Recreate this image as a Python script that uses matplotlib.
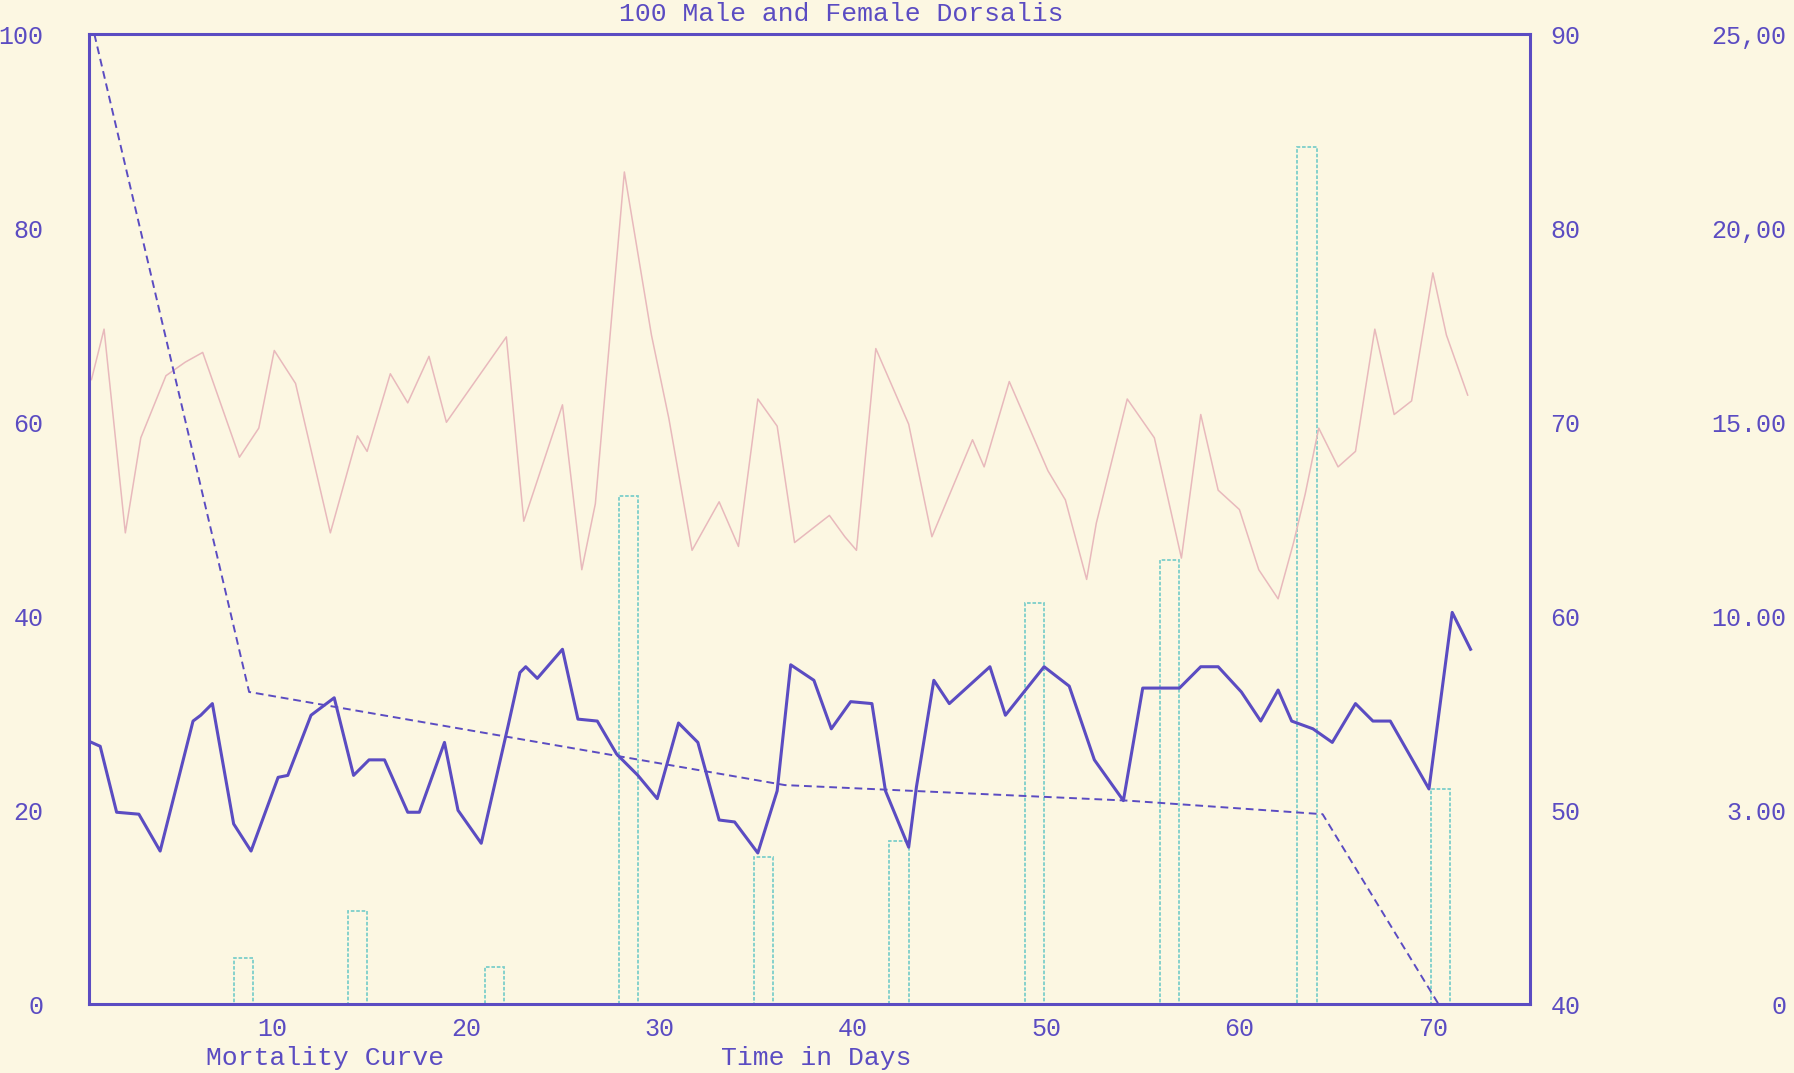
import matplotlib
matplotlib.use("Agg")
import matplotlib.pyplot as plt

# typewriter look
plt.rcParams['font.family'] = ['Liberation Mono', 'DejaVu Sans Mono']

ink = '#5b4cc2'
paper = '#fcf7e2'

# mortality curve (left axis, per cent surviving)
mort_days = [0.8, 8.8, 36.5, 54.2, 64.3, 70.3]
mort_vals = [100, 32.2, 22.6, 21.0, 19.6, 0]

# solid blue line (right axis)
blue_days = [0.65, 1.1, 1.95, 3.1, 4.2, 5.9, 6.3, 6.9, 8.0, 8.9, 10.3, 10.8, 12.0, 13.2,
             14.2, 15.0, 15.8, 17.0, 17.6, 18.9, 19.6, 20.8, 22.2, 22.8, 23.1, 23.7, 25.0,
             25.8, 26.8, 27.8, 28.9, 29.9, 31.0, 32.0, 33.1, 33.9, 35.1, 36.1, 36.8, 38.0,
             38.9, 39.9, 41.0, 41.7, 42.9, 43.3, 44.2, 45.0, 47.1, 47.9, 49.9, 51.2, 52.5,
             54.0, 55.0, 56.9, 58.0, 58.9, 60.1, 61.1, 62.0, 62.7, 63.8, 64.8, 66.0, 66.9,
             67.8, 69.8, 71.0, 71.95]
blue_vals = [53.5, 53.3, 49.9, 49.8, 47.9, 54.6, 54.9, 55.5, 49.3, 47.9, 51.7, 51.8, 54.9, 55.8,
             51.8, 52.6, 52.6, 49.9, 49.9, 53.5, 50.0, 48.3, 54.4, 57.1, 57.4, 56.8, 58.3,
             54.7, 54.6, 52.9, 51.8, 50.6, 54.5, 53.5, 49.5, 49.4, 47.8, 51.0, 57.5, 56.7,
             54.2, 55.6, 55.5, 51.0, 48.1, 51.2, 56.7, 55.5, 57.4, 54.9, 57.4, 56.4, 52.6,
             50.5, 56.3, 56.3, 57.4, 57.4, 56.1, 54.6, 56.2, 54.6, 54.2, 53.5, 55.5, 54.6,
             54.6, 51.1, 60.2, 58.3]

# faint pink line (right axis)
pink_days = [0.65, 1.3, 2.4, 3.2, 4.5, 5.5, 6.4, 8.3, 9.3, 10.1, 11.2, 13.0, 14.4, 14.9,
             16.1, 17.0, 18.1, 19.0, 22.1, 23.0, 25.0, 26.0, 26.7, 28.2, 29.6, 30.5, 31.7,
             33.1, 34.1, 35.1, 36.1, 37.0, 38.8, 39.6, 40.2, 41.2, 42.9, 44.1, 46.2, 46.8,
             48.1, 50.1, 51.0, 52.1, 52.6, 54.2, 55.6, 57.0, 58.0, 58.9, 60.0, 61.0, 62.0,
             62.8, 63.4, 64.1, 65.1, 66.0, 67.0, 68.0, 68.9, 70.0, 70.7, 71.8]
pink_vals = [72.2, 74.8, 64.3, 69.2, 72.4, 73.1, 73.6, 68.2, 69.7, 73.7, 72.0, 64.3, 69.3, 68.5,
             72.5, 71.0, 73.4, 70.0, 74.4, 64.9, 70.9, 62.4, 65.8, 82.9, 74.5, 70.2, 63.4,
             65.9, 63.6, 71.2, 69.8, 63.8, 65.2, 64.1, 63.4, 73.8, 69.9, 64.1, 69.1, 67.7,
             72.1, 67.5, 66.0, 61.9, 64.8, 71.2, 69.2, 63.0, 70.4, 66.5, 65.5, 62.4, 60.9,
             63.8, 66.3, 69.7, 67.7, 68.5, 74.8, 70.4, 71.1, 77.7, 74.5, 71.4]

# weekly bars (far right axis)
bar_days = [8.5, 14.4, 21.5, 28.4, 35.4, 42.4, 49.4, 56.4, 63.5, 70.4]
bar_vals = [1.2, 2.4, 0.95, 13.1, 3.8, 4.2, 10.35, 11.45, 22.1, 5.55]

left_ticks = [0, 20, 40, 60, 80, 100]
right_ticks = [40, 50, 60, 70, 80, 90]
far_ticks = [0, 5, 10, 15, 20, 25]
far_labels = ['0', '3.00', '10.00', '15.00', '20,00', '25,00']
x_ticks = [10, 20, 30, 40, 50, 60, 70]

fig = plt.figure(figsize=(17.94, 10.73), dpi=100, facecolor=paper)
ax = fig.add_axes([0.0497, 0.064, 0.8029, 0.9041])
ax2 = ax.twinx()
ax3 = ax.twinx()

ax3.set_zorder(0)
ax2.set_zorder(1)
ax.set_zorder(2)
for a in (ax, ax2, ax3):
    a.patch.set_visible(False)
ax3.patch.set_visible(True)
ax3.patch.set_facecolor(paper)

# bars
ax3.bar(bar_days, bar_vals, width=1.0, fill=False, edgecolor='#7ccfca',
        linewidth=1.3, linestyle=(0, (2, 1)))
ax3.set_ylim(0, 25)
ax3.set_yticks(far_ticks)
ax3.set_yticklabels(far_labels)
ax3.tick_params(axis='y', length=0, pad=185, labelsize=18, labelcolor=ink)
for t in ax3.get_yticklabels():
    t.set_horizontalalignment('right')
for s in ax3.spines.values():
    s.set_visible(False)

# temperature-like lines
ax2.plot(pink_days, pink_vals, color='#e8b9bc', linewidth=1.1)
ax2.plot(blue_days, blue_vals, color=ink, linewidth=2.2)
ax2.set_ylim(40, 90)
ax2.set_yticks(right_ticks)
ax2.tick_params(axis='y', length=0, pad=15, labelsize=18, labelcolor=ink)
for s in ax2.spines.values():
    s.set_visible(False)

# mortality
ax.plot(mort_days, mort_vals, color=ink, linewidth=1.4, linestyle=(0, (4, 2.5)))
ax.set_ylim(0, 100)
ax.set_xlim(0.53, 75.0)
ax.set_yticks(left_ticks)
ax.set_xticks(x_ticks)
ax.tick_params(axis='both', length=0, labelsize=18, labelcolor=ink)
ax.tick_params(axis='y', pad=33)
ax.tick_params(axis='x', pad=9)
for s in ax.spines.values():
    s.set_color(ink)
    s.set_linewidth(2.2)

fig.text(0.469, 0.987, '100 Male and Female Dorsalis', ha='center', va='center',
         fontsize=19, color=ink)
fig.text(0.455, 0.0139, 'Time in Days', ha='center', va='center', fontsize=19, color=ink)
fig.text(0.115, 0.003, 'Mortality Curve', ha='left', va='bottom', fontsize=19, color=ink)

fig.savefig('out.png', dpi=100, facecolor=paper)
